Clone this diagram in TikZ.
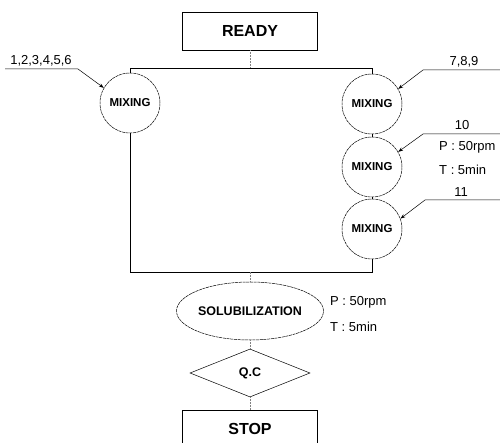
\documentclass[tikz,border=0pt]{standalone}
\usepackage{fontspec}
\setmainfont{Liberation Sans}
\usetikzlibrary{arrows.meta,shapes.geometric}

\begin{document}
\begin{tikzpicture}[x=1pt,y=-1pt,
    termbox/.style={draw,line width=0.7pt,minimum width=135pt,minimum height=38pt,inner sep=0pt,font=\fontsize{16}{18}\selectfont\bfseries},
    mixer/.style={circle,draw,line width=0.5pt,dash pattern=on 3pt off 0.7pt,minimum size=60pt,inner sep=0pt,font=\fontsize{11.5}{13}\selectfont\bfseries},
    feedlbl/.style={inner sep=1pt,font=\fontsize{13}{15}\selectfont},
    feed/.style={line width=0.5pt,-{Stealth[length=5pt,width=3.5pt]}},
    link/.style={line width=0.6pt},
    dotlink/.style={line width=0.5pt,gray,densely dotted}]
    \useasboundingbox (0,0) rectangle (500,443);
    \node[termbox] (ready) at (250,31) {READY};
    \node[mixer] (mixA) at (130,103) {MIXING};
    \node[mixer] (mixB) at (372,104) {MIXING};
    \node[mixer] (mixC) at (372,167) {MIXING};
    \node[mixer] (mixD) at (372,229) {MIXING};
    \node[ellipse,draw,line width=0.5pt,dash pattern=on 3pt off 0.7pt,minimum width=144pt,minimum height=58pt,inner sep=0pt,font=\fontsize{12.5}{14}\selectfont\bfseries] (sol) at (250,311) {SOLUBILIZATION};
    \node[diamond,draw,line width=0.5pt,minimum width=120pt,minimum height=48pt,inner sep=0pt,font=\fontsize{12.5}{14}\selectfont\bfseries] (qc) at (250,373) {Q.C};
    \node[termbox] (stop) at (250,429) {STOP};
    \coordinate (splitM) at (250,68);
    \coordinate (splitL) at (130,68);
    \coordinate (splitR) at (372,68);
    \coordinate (joinM) at (250,272);
    \coordinate (joinL) at (130,272);
    \coordinate (joinR) at (372,272);
    \draw[dotlink] (ready.south) -- (splitM);
    \draw[link] (mixA.north) -- (splitL) -- (splitR) -- (mixB.north);
    \draw[link] (mixB.south) -- (mixC.north);
    \draw[link] (mixC.south) -- (mixD.north);
    \draw[link] (mixA.south) -- (joinL) -- (joinR) -- (mixD.south);
    \draw[dotlink] (joinM) -- (sol.north);
    \draw[dotlink] (sol.south) -- (qc.north);
    \draw[dotlink] (qc.south) -- (stop.north);
    \node[feedlbl,anchor=west] (solP) at (329,302) {P : 50rpm};
    \node[feedlbl,anchor=west] (solT) at (329,327) {T : 5min};
    \node[feedlbl] (inA) at (41,61) {1,2,3,4,5,6};
    \node[feedlbl] (inB) at (464,62) {7,8,9};
    \node[feedlbl] (inC) at (462,125) {10};
    \node[feedlbl,anchor=west] (mixP) at (438,147) {P : 50rpm};
    \node[feedlbl,anchor=west] (mixT) at (438,170) {T : 5min};
    \node[feedlbl] (inD) at (461,192) {11};
    \coordinate (inA0) at (5,69);
    \coordinate (inA1) at (78,69);
    \coordinate (inB0) at (502,70);
    \coordinate (inB1) at (423,70);
    \coordinate (inC0) at (502,134);
    \coordinate (inC1) at (423,134);
    \coordinate (inD0) at (502,200);
    \coordinate (inD1) at (425,200);
    \draw[feed] (inA0) -- (inA1) -- (mixA.150);
    \draw[feed] (inB0) -- (inB1) -- (mixB.30);
    \draw[feed] (inC0) -- (inC1) -- (mixC.30);
    \draw[feed] (inD0) -- (inD1) -- (mixD.20);
\end{tikzpicture}
\end{document}
